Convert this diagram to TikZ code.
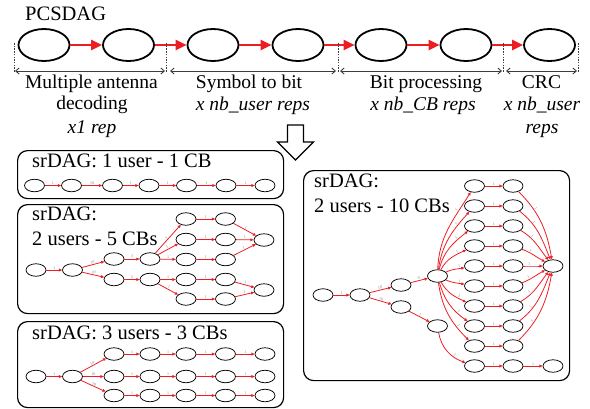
\documentclass[tikz,border=0pt]{standalone}
\usepackage{fontspec}
\setmainfont{Liberation Serif}
\usetikzlibrary{shapes.geometric,arrows.meta}
\definecolor{myred}{RGB}{236,30,36}
\definecolor{dgray}{RGB}{60,60,60}
\tikzset{
  big/.style={ellipse,draw,line width=1.8pt,minimum width=51pt,minimum height=32pt,inner sep=0pt},
  sn/.style={ellipse,draw,line width=0.75pt,minimum width=20pt,minimum height=12.5pt,inner sep=0pt},
  bigarr/.style={draw=myred,line width=2.6pt,-{Triangle[length=11pt,width=10pt]}},
  re/.style={draw=myred,line width=0.8pt,-{Triangle[length=3.2pt,width=2.8pt]}},
  lb/.style={font=\fontsize{4}{4}\selectfont,text=gray,inner sep=0.6pt,above,sloped},
  span/.style={draw=dgray,line width=0.9pt,{Straight Barb[length=3.5pt,width=6pt]}-{Straight Barb[length=3.5pt,width=6pt]}},
  vdash/.style={draw=dgray,line width=0.6pt,dash pattern=on 1.5pt off 1.2pt},
  box/.style={draw,line width=1.2pt,rounded corners=10pt},
  lab/.style={font=\fontsize{19.5}{22}\selectfont,inner sep=0pt,anchor=base},
  ttl/.style={font=\fontsize{20.5}{24}\selectfont,inner sep=0pt,anchor=base west},
}
\begin{document}
\begin{tikzpicture}[x=1pt,y=-1pt]
\useasboundingbox (0,0) rectangle (590,408);
% ---------- top PCSDAG ----------
\node[ttl] (title) at (25,20) {PCSDAG};
\foreach \n/\x in {1/44,2/128.5,3/213,4/298,5/381,6/466,7/549.5}
  \node[big] (e\n) at (\x,45) {};
\foreach \a/\b in {1/2,2/3,3/4,4/5,5/6,6/7}
  \draw[bigarr] (e\a) -- (e\b);
\foreach \n/\x in {1/14,2/166,3/338,4/503,5/578}{
  \coordinate (dt\n) at (\x,43);
  \coordinate (db\n) at (\x,72);
  \draw[vdash] (dt\n) -- (db\n);
}
\coordinate (s1a) at (15,71);  \coordinate (s1b) at (165,71);
\coordinate (s2a) at (170,71); \coordinate (s2b) at (336,71);
\coordinate (s3a) at (340,71); \coordinate (s3b) at (502,71);
\coordinate (s4a) at (506,71); \coordinate (s4b) at (577,71);
\draw[span] (s1a) -- (s1b);
\draw[span] (s2a) -- (s2b);
\draw[span] (s3a) -- (s3b);
\draw[span] (s4a) -- (s4b);
\node[lab] (l1a) at (91.5,88) {Multiple antenna};
\node[lab] (l1b) at (92,109) {decoding};
\node[lab] (l1c) at (92,133) {\itshape x1 rep};
\node[lab] (l2a) at (249,88) {Symbol to bit};
\node[lab] (l2b) at (253,110) {\itshape x nb\_user reps};
\node[lab] (l3a) at (426,88) {Bit processing};
\node[lab] (l3b) at (423,110) {\itshape x nb\_CB reps};
\node[lab] (l4a) at (541.5,88) {CRC};
\node[lab] (l4b) at (542,110) {\itshape x nb\_user};
\node[lab] (l4c) at (542,133) {\itshape reps};
% ---------- hollow arrow ----------
\draw[line width=1.1pt,line join=miter] (287.5,125) -- (303.5,125) -- (303.5,142) -- (313.5,142) -- (295.5,160) -- (277.5,142) -- (287.5,142) -- cycle;
% ---------- box 1 ----------
\node[box,minimum width=266pt,minimum height=48pt,anchor=north west] (box1) at (17,150) {};
\node[ttl] (t1) at (32,167) {srDAG: 1 user - 1 CB};
\foreach \n/\x in {1/34.5,2/71.5,3/112.5,4/149,5/186.5,6/226,7/265}
  \node[sn] (a\n) at (\x,185.5) {};
\foreach \a/\b/\l in {1/2/1,2/3/10,3/4/1,4/5/1,5/6/1,6/7/1}
  \draw[re] (a\a) -- node[lb] {\l} (a\b);
% ---------- box 2 ----------
\node[box,minimum width=266pt,minimum height=109pt,anchor=north west] (box2) at (17,204) {};
\node[ttl] (t2a) at (32,220) {srDAG:};
\node[ttl] (t2b) at (32,245) {2 users - 5 CBs};
\node[sn] (c1) at (36,270) {};
\node[sn] (c2) at (72.5,270) {};
\node[sn] (c3) at (114,259) {};
\node[sn] (c4) at (114,279.5) {};
\node[sn] (c5) at (150,259) {};
\node[sn] (c6) at (150,279.5) {};
\foreach \n/\y in {1/219,2/239.5,3/259.5,4/279.5,5/299}{
  \node[sn] (ca\n) at (186,\y) {};
  \node[sn] (cb\n) at (225.5,\y) {};
  \draw[re] (ca\n) -- node[lb] {1} (cb\n);
}
\node[sn] (cf1) at (264,240) {};
\node[sn] (cf2) at (264,290) {};
\draw[re] (c1) -- node[lb] {1} (c2);
\draw[re] (c2) -- node[lb] {10} (c3);
\draw[re] (c2) -- node[lb] {10} (c4);
\draw[re] (c3) -- node[lb] {3} (c5);
\draw[re] (c4) -- node[lb] {2} (c6);
\foreach \n in {1,2,3} \draw[re] (c5) -- node[lb] {1} (ca\n);
\foreach \n in {4,5} \draw[re] (c6) -- node[lb] {1} (ca\n);
\foreach \n in {1,2,3} \draw[re] (cb\n) -- node[lb] {1} (cf1);
\foreach \n in {4,5} \draw[re] (cb\n) -- node[lb] {1} (cf2);
% ---------- box 3 ----------
\node[box,minimum width=266pt,minimum height=86pt,anchor=north west] (box3) at (17,321) {};
\node[ttl] (t3) at (32,339) {srDAG: 3 users - 3 CBs};
\node[sn] (d1) at (36,376.5) {};
\node[sn] (d2) at (72.5,376.5) {};
\draw[re] (d1) -- node[lb] {1} (d2);
\foreach \r/\y in {1/354,2/376.5,3/395.5}{
  \foreach \c/\x in {1/114,2/150,3/186,4/225.5,5/265}
    \node[sn] (d\r\c) at (\x,\y) {};
  \draw[re] (d2) -- node[lb] {10} (d\r1);
  \foreach \a/\b in {1/2,2/3,3/4,4/5}
    \draw[re] (d\r\a) -- node[lb] {1} (d\r\b);
}
% ---------- box 4 ----------
\node[box,minimum width=266pt,minimum height=210pt,anchor=north west] (box4) at (303,170) {};
\node[ttl] (t4a) at (314,187) {srDAG:};
\node[ttl] (t4b) at (314,212) {2 users - 10 CBs};
\node[sn] (f1) at (323,295) {};
\node[sn] (f2) at (360,295) {};
\node[sn] (f3) at (401,285) {};
\node[sn] (f4) at (401,307) {};
\node[sn] (hub) at (437.5,276) {};
\node[sn] (f6) at (437.5,326) {};
\foreach \n/\y in {1/186,2/206,3/226,4/246,5/266,6/286,7/306,8/326,9/346,10/366}{
  \node[sn] (fa\n) at (474.5,\y) {};
  \node[sn] (fb\n) at (513,\y) {};
  \draw[re] (fa\n) -- node[lb] {1} (fb\n);
}
\node[sn] (ft) at (553,266) {};
\node[sn] (fbot) at (553,366) {};
\draw[re] (f1) -- node[lb] {1} (f2);
\draw[re] (f2) -- node[lb] {10} (f3);
\draw[re] (f2) -- node[lb] {10} (f4);
\draw[re] (f3) -- node[lb] {9} (hub);
\draw[re] (f4) -- node[lb] {1} (f6);
\foreach \n/\o/\i in {1/88/238,2/82/228,3/76/218,4/62/205,5/25/190,6/-25/170,7/-60/155,8/-74/145,9/-82/135}
  \draw[re] (hub) to[out=\o,in=\i] node[lb,pos=0.75] {1} (fa\n);
\draw[re] (f6) to[out=-80,in=160] node[lb,pos=0.7] {1} (fa10);
\foreach \n/\o/\i in {1/-45/100,2/-38/112,3/-30/128,4/-20/152,5/0/180,6/20/208,7/30/232,8/38/248,9/45/260}
  \draw[re] (fb\n) to[out=\o,in=\i] node[lb,pos=0.3] {1} (ft);
\draw[re] (fb10) -- node[lb] {1} (fbot);
\end{tikzpicture}
\end{document}
